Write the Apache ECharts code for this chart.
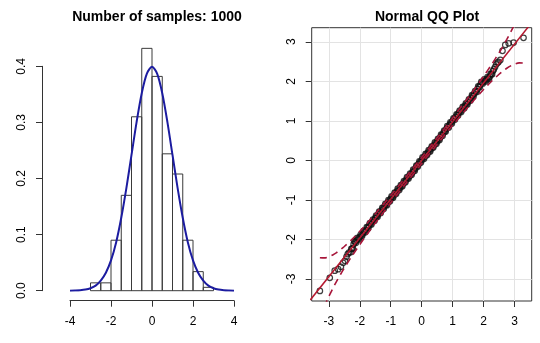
<!DOCTYPE html>
<html><head><meta charset="utf-8">
<script src="https://cdn.jsdelivr.net/npm/echarts@6/dist/echarts.min.js"></script>
<style>html,body{margin:0;padding:0;background:#fff}#c{width:540px;height:343px}</style>
</head><body><div id="c"></div>
<script>
// ---------- Left panel: histogram ----------
const histTitle = 'Number of samples: 1000';
const histBinStart = [-3, -2.5, -2, -1.5, -1, -0.5, 0, 0.5, 1, 1.5, 2, 2.5];
const histBinWidth = 0.5;
const histDensity = [0.014, 0.014, 0.090, 0.170, 0.310, 0.432, 0.382, 0.244, 0.208, 0.090, 0.034, 0.006];
const histXTicks = [-4, -2, 0, 2, 4];
const histYTicks = [0, 0.1, 0.2, 0.3, 0.4];
// density curve
const curveX = [-4, -3.75, -3.5, -3.25, -3, -2.75, -2.5, -2.25, -2, -1.75, -1.5, -1.25, -1, -0.75, -0.5, -0.25, 0,
                0.25, 0.5, 0.75, 1, 1.25, 1.5, 1.75, 2, 2.25, 2.5, 2.75, 3, 3.25, 3.5, 3.75, 4];
const curveY = [0.0001, 0.0004, 0.0009, 0.002, 0.0044, 0.009, 0.018, 0.032, 0.054, 0.086, 0.130, 0.183, 0.242, 0.301, 0.352, 0.387, 0.399,
                0.387, 0.352, 0.301, 0.242, 0.183, 0.130, 0.086, 0.054, 0.032, 0.018, 0.009, 0.0044, 0.002, 0.0009, 0.0004, 0.0001];

// ---------- Right panel: QQ plot ----------
const qqTitle = 'Normal QQ Plot';
const qqTicks = [-3, -2, -1, 0, 1, 2, 3];
const qqTheoretical = [
  -3.29, -2.97, -2.81, -2.70, -2.61, -2.54, -2.48, -2.43, -2.39, -2.35,
  -2.30, -2.25, -2.20, -2.15, -2.10, -2.05, -2.00, -1.95, -1.90, -1.85, -1.80, -1.75, -1.70, -1.65, -1.60, -1.55,
  -1.50, -1.45, -1.40, -1.35, -1.30, -1.25, -1.20, -1.15, -1.10, -1.05, -1.00, -0.95, -0.90, -0.85, -0.80, -0.75,
  -0.70, -0.65, -0.60, -0.55, -0.50, -0.45, -0.40, -0.35, -0.30, -0.25, -0.20, -0.15, -0.10, -0.05, 0.00,
  0.05, 0.10, 0.15, 0.20, 0.25, 0.30, 0.35, 0.40, 0.45, 0.50, 0.55, 0.60, 0.65, 0.70, 0.75, 0.80, 0.85, 0.90, 0.95,
  1.00, 1.05, 1.10, 1.15, 1.20, 1.25, 1.30, 1.35, 1.40, 1.45, 1.50, 1.55, 1.60, 1.65, 1.70, 1.75, 1.80, 1.85, 1.90,
  1.95, 2.00, 2.05, 2.10, 2.15, 2.20, 2.25, 2.30,
  2.33, 2.37, 2.41, 2.45, 2.48, 2.54, 2.61, 2.70, 2.81, 2.97, 3.29
];
const qqSample = [
  -3.30, -2.97, -2.79, -2.75, -2.69, -2.59, -2.54, -2.44, -2.37, -2.33,
  -2.32, -2.24, -2.12, -2.06, -2.02, -1.98, -1.94, -1.90, -1.85, -1.80, -1.76, -1.70, -1.65, -1.60, -1.56, -1.51,
  -1.46, -1.41, -1.36, -1.31, -1.27, -1.21, -1.16, -1.12, -1.07, -1.02, -0.97, -0.93, -0.88, -0.83, -0.78, -0.73,
  -0.69, -0.64, -0.59, -0.54, -0.49, -0.44, -0.40, -0.35, -0.30, -0.25, -0.20, -0.14, -0.09, -0.04, 0.01,
  0.06, 0.10, 0.15, 0.20, 0.24, 0.29, 0.34, 0.39, 0.44, 0.48, 0.53, 0.58, 0.64, 0.69, 0.74, 0.80, 0.85, 0.90, 0.95,
  1.00, 1.05, 1.10, 1.15, 1.20, 1.24, 1.29, 1.34, 1.38, 1.43, 1.48, 1.53, 1.58, 1.64, 1.69, 1.74, 1.80, 1.86, 1.92,
  1.97, 2.00, 2.02, 2.05, 2.08, 2.12, 2.18, 2.26,
  2.30, 2.36, 2.43, 2.47, 2.49, 2.54, 2.77, 2.92, 2.96, 2.98, 3.10
];
// further points of the dense middle part
const qqTheoreticalMid = [
  -2.275, -2.225, -2.175, -2.125, -2.075, -2.025, -1.975, -1.925, -1.875, -1.825, -1.775, -1.725, -1.675, -1.625,
  -1.575, -1.525, -1.475, -1.425, -1.375, -1.325, -1.275, -1.225, -1.175, -1.125, -1.075, -1.025, -0.975, -0.925,
  -0.875, -0.825, -0.775, -0.725, -0.675, -0.625, -0.575, -0.525, -0.475, -0.425, -0.375, -0.325, -0.275, -0.225,
  -0.175, -0.125, -0.075, -0.025, 0.025, 0.075, 0.125, 0.175, 0.225, 0.275, 0.325, 0.375, 0.425, 0.475, 0.525,
  0.575, 0.625, 0.675, 0.725, 0.775, 0.825, 0.875, 0.925, 0.975, 1.025, 1.075, 1.125, 1.175, 1.225, 1.275, 1.325,
  1.375, 1.425, 1.475, 1.525, 1.575, 1.625, 1.675, 1.725, 1.775, 1.825, 1.875, 1.925, 1.975, 2.025, 2.075, 2.125,
  2.175, 2.225, 2.275
];
const qqSampleMid = [
  -2.24, -2.22, -2.05, -2.08, -1.96, -2.00, -1.88, -1.915, -1.785, -1.82, -1.69, -1.715, -1.585, -1.62,
  -1.495, -1.525, -1.395, -1.425, -1.295, -1.33, -1.20, -1.225, -1.10, -1.135, -1.005, -1.035, -0.91, -0.945,
  -0.815, -0.845, -0.715, -0.75, -0.625, -0.655, -0.525, -0.555, -0.425, -0.46, -0.335, -0.365, -0.235, -0.265,
  -0.13, -0.155, -0.025, -0.055, 0.075, 0.04, 0.165, 0.135, 0.26, 0.225, 0.355, 0.325, 0.455, 0.42, 0.545,
  0.515, 0.65, 0.625, 0.755, 0.73, 0.865, 0.835, 0.965, 0.935, 1.065, 1.035, 1.165, 1.135, 1.26, 1.225, 1.355,
  1.32, 1.445, 1.415, 1.545, 1.515, 1.65, 1.625, 1.755, 1.73, 1.87, 1.85, 1.985, 1.945, 2.05, 1.995, 2.105,
  2.06, 2.19, 2.18
];
// reference line (qqline)
const qqLineX = [-3.6, 3.6];
const qqLineY = [-3.53, 3.53];
// confidence envelope
const envX = [-3.29, -3.15, -3.0, -2.875, -2.75, -2.625, -2.5, -2.25, -2.0, -1.75, -1.5, -1.0, -0.5, 0,
              0.5, 1.0, 1.5, 1.75, 2.0, 2.25, 2.5, 2.625, 2.75, 2.875, 3.0, 3.15, 3.29];
const envUpper = [-2.461, -2.466, -2.437, -2.391, -2.331, -2.259, -2.178, -1.995, -1.792, -1.577, -1.353, -0.888, -0.410, 0.076,
                  0.570, 1.072, 1.587, 1.853, 2.128, 2.415, 2.722, 2.886, 3.059, 3.244, 3.443, 3.708, 3.987];
const envLower = [-3.987, -3.708, -3.443, -3.244, -3.059, -2.886, -2.722, -2.415, -2.128, -1.853, -1.587, -1.072, -0.570, -0.076,
                  0.410, 0.888, 1.353, 1.577, 1.792, 1.995, 2.178, 2.259, 2.331, 2.391, 2.437, 2.466, 2.461];

const FONT = 'Liberation Sans, Arial, Helvetica, sans-serif';
const zip = (a, b) => a.map((v, i) => [v, b[i]]);

const chart = echarts.init(document.getElementById('c'), null, {renderer: 'canvas'});

const axisTextStyle = {color: '#000', fontSize: 12, fontFamily: FONT};

chart.setOption({
  animation: false,
  backgroundColor: '#fff',
  title: [
    {text: histTitle, left: 152, top: 5, textAlign: 'center',
     textStyle: {fontSize: 14, fontWeight: 'bold', fontFamily: FONT, color: '#000'}},
    {text: qqTitle, left: 422, top: 5, textAlign: 'center',
     textStyle: {fontSize: 14, fontWeight: 'bold', fontFamily: FONT, color: '#000'}}
  ],
  grid: [
    {left: 70, top: 66.3, width: 164, height: 224.4, show: false},
    {left: 311.7, top: 27.7, width: 220, height: 273.3, show: true, borderColor: '#333', borderWidth: 1, backgroundColor: 'transparent'}
  ],
  xAxis: [
    {gridIndex: 0, type: 'value', min: histXTicks[0], max: histXTicks[histXTicks.length - 1], interval: 2,
     offset: 10,
     axisLine: {show: true, onZero: false, lineStyle: {color: '#333', width: 1}},
     axisTick: {show: true, length: 6, lineStyle: {color: '#333'}},
     axisLabel: {...axisTextStyle, margin: 15},
     splitLine: {show: false}},
    {gridIndex: 1, type: 'value', min: -3.554, max: 3.554, splitNumber: 7,
     axisLine: {show: false, onZero: false},
     axisTick: {show: true, length: 6, customValues: qqTicks, lineStyle: {color: '#333'}},
     axisLabel: {...axisTextStyle, margin: 15, customValues: qqTicks},
     splitLine: {show: true, lineStyle: {color: '#e3e3e3', width: 1}}}
  ],
  yAxis: [
    {gridIndex: 0, type: 'value', min: histYTicks[0], max: histYTicks[histYTicks.length - 1], interval: 0.1,
     offset: 28,
     axisLine: {show: true, onZero: false, lineStyle: {color: '#333', width: 1}},
     axisTick: {show: true, length: 6, lineStyle: {color: '#333'}},
     axisLabel: {...axisTextStyle, margin: 14, rotate: 90, formatter: v => v.toFixed(1)},
     splitLine: {show: false}},
    {gridIndex: 1, type: 'value', min: -3.556, max: 3.356, splitNumber: 7,
     axisLine: {show: false, onZero: false},
     axisTick: {show: true, length: 6, customValues: qqTicks, lineStyle: {color: '#333'}},
     axisLabel: {...axisTextStyle, margin: 14, rotate: 90, customValues: qqTicks},
     splitLine: {show: true, lineStyle: {color: '#e3e3e3', width: 1}}}
  ],
  series: [
    {
      type: 'custom', xAxisIndex: 0, yAxisIndex: 0,
      data: histBinStart.map((s, i) => [s, s + histBinWidth, histDensity[i]]),
      encode: {x: [0, 1], y: 2},
      renderItem: function (params, api) {
        const p0 = api.coord([api.value(0), api.value(2)]);
        const p1 = api.coord([api.value(1), 0]);
        return {
          type: 'rect',
          shape: {x: p0[0], y: p0[1], width: p1[0] - p0[0], height: p1[1] - p0[1]},
          style: {fill: 'none', stroke: '#3a3a3a', lineWidth: 1}
        };
      },
      z: 2
    },
    {
      type: 'line', xAxisIndex: 0, yAxisIndex: 0,
      data: zip(curveX, curveY), smooth: 0.3, showSymbol: false,
      lineStyle: {color: '#1c1ca0', width: 2}, z: 3
    },
    {
      type: 'scatter', xAxisIndex: 1, yAxisIndex: 1,
      data: zip(qqTheoretical, qqSample).concat(zip(qqTheoreticalMid, qqSampleMid)),
      symbol: 'circle', symbolSize: 5.5,
      itemStyle: {color: 'rgba(0,0,0,0)', borderColor: '#111', borderWidth: 1.2},
      z: 2
    },
    {
      type: 'line', xAxisIndex: 1, yAxisIndex: 1,
      data: zip(qqLineX, qqLineY), showSymbol: false,
      lineStyle: {color: '#b5172e', width: 1.5}, z: 3
    },
    {
      type: 'line', xAxisIndex: 1, yAxisIndex: 1,
      data: zip(envX, envUpper), showSymbol: false, smooth: 0.3,
      lineStyle: {color: '#a8163a', width: 1.6, type: [7, 5]}, z: 4
    },
    {
      type: 'line', xAxisIndex: 1, yAxisIndex: 1,
      data: zip(envX, envLower), showSymbol: false, smooth: 0.3,
      lineStyle: {color: '#a8163a', width: 1.6, type: [7, 5]}, z: 4
    }
  ]
});
</script>
</body></html>
